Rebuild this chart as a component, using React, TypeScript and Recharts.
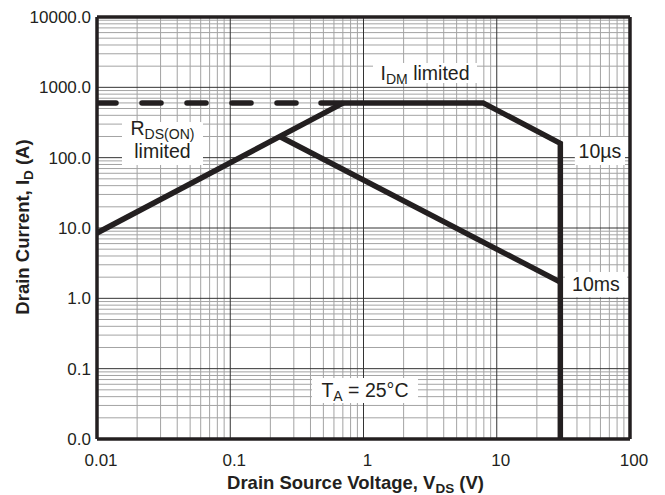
import React from 'react';
import { ComposedChart, Line, XAxis, YAxis, ReferenceLine, ReferenceArea } from 'recharts';

// Axis ticks
const xTicks = [0.01, 0.1, 1, 10, 100];
const yTicks = [0.01, 0.1, 1, 10, 100, 1000, 10000];
const minorSteps = [2, 3, 4, 5, 6, 7, 8, 9];

// Series (V_DS in volts, I_D in amps)
const rdsVoltage = [0.01, 0.706];
const rdsCurrent = [8.5, 600];
const idmDashVoltage = [0.01, 0.46];
const idmDashCurrent = [600, 600];
const pulse10usVoltage = [0.48, 7.9, 30, 30];
const pulse10usCurrent = [600, 600, 160, 0.01];
const pulse10msVoltage = [0.235, 30];
const pulse10msCurrent = [200, 1.7];

const zip = (xs: number[], ys: number[]) => xs.map((x, i) => ({ x, y: ys[i] }));
const rdsData = zip(rdsVoltage, rdsCurrent);
const dashData = zip(idmDashVoltage, idmDashCurrent);
const us10Data = zip(pulse10usVoltage, pulse10usCurrent);
const ms10Data = zip(pulse10msVoltage, pulse10msCurrent);

const xMinor = xTicks.slice(0, -1).flatMap((d) => minorSteps.map((m) => d * m));
const yMinor = yTicks.slice(0, -1).flatMap((d) => minorSteps.map((m) => d * m));

const FONT = '"Liberation Sans", Arial, Helvetica, sans-serif';
const INK = '#231f20';

type Seg = { t: string; sub?: boolean };
type Note = { x1: number; x2: number; y1: number; y2: number; lines: Seg[][] };

const notes: Note[] = [
  { x1: 1.18, x2: 7.11, y1: 1153, y2: 2218, lines: [[{ t: 'I' }, { t: 'DM', sub: true }, { t: ' limited' }]] },
  { x1: 0.0154, x2: 0.0624, y1: 78.7, y2: 321, lines: [[{ t: 'R' }, { t: 'DS(ON)', sub: true }], [{ t: 'limited' }]] },
  { x1: 38.6, x2: 91.7, y1: 78.7, y2: 197, lines: [[{ t: '10µs' }]] },
  { x1: 32.5, x2: 94.8, y1: 1.045, y2: 2.37, lines: [[{ t: '10ms' }]] },
  { x1: 0.411, x2: 2.56, y1: 0.0325, y2: 0.0736, lines: [[{ t: 'T' }, { t: 'A', sub: true }, { t: ' = 25°C' }]] },
];

const renderSegs = (segs: Seg[], size: number) => {
  const out: React.ReactNode[] = [];
  let shifted = false;
  segs.forEach((s, i) => {
    if (s.sub) {
      out.push(
        <tspan key={i} fontSize={size * 0.72} dy={shifted ? 0 : 4}>
          {s.t}
        </tspan>
      );
      shifted = true;
    } else {
      out.push(
        <tspan key={i} dy={shifted ? -4 : 0}>
          {s.t}
        </tspan>
      );
      shifted = false;
    }
  });
  return out;
};

const noteContent = (lines: Seg[][]) => (props: any) => {
  const vb = props.viewBox || { x: 0, y: 0, width: 0, height: 0 };
  const cx = vb.x + vb.width / 2;
  const cy = vb.y + vb.height / 2;
  const size = 19.5;
  return (
    <g>
      <rect x={vb.x} y={vb.y} width={vb.width} height={vb.height} fill="#fff" stroke="none" />
      {lines.length === 1 ? (
        <text x={cx} y={cy + 6.8} textAnchor="middle" fontFamily={FONT} fontSize={size} fill={INK}>
          {renderSegs(lines[0], size)}
        </text>
      ) : (
        <>
          <text x={cx} y={cy - 9} textAnchor="middle" fontFamily={FONT} fontSize={size} fill={INK}>
            {renderSegs(lines[0], size)}
          </text>
          <text x={cx} y={cy + 14.5} textAnchor="middle" fontFamily={FONT} fontSize={size} fill={INK}>
            {renderSegs(lines[1], size)}
          </text>
        </>
      )}
    </g>
  );
};

const YTitle = (props: any) => {
  const vb = props.viewBox || { x: 0, y: 17, width: 97, height: 422 };
  const bx = vb.x + 29;
  const cy = vb.y + vb.height / 2 - 1;
  return (
    <text
      x={bx}
      y={cy}
      transform={`rotate(-90, ${bx}, ${cy})`}
      textAnchor="middle"
      fontFamily={FONT}
      fontSize={18.5}
      fontWeight="bold"
      fill={INK}
    >
      <tspan>Drain Current, I</tspan>
      <tspan fontSize={13.5} dy={4}>D</tspan>
      <tspan dy={-4}> (A)</tspan>
    </text>
  );
};

const XTitle = (props: any) => {
  const vb = props.viewBox || { x: 97, y: 439, width: 533, height: 56 };
  const cx = vb.x + vb.width / 2 - 8;
  const by = vb.y + 50;
  return (
    <text x={cx} y={by} textAnchor="middle" fontFamily={FONT} fontSize={18.5} fontWeight="bold" fill={INK}>
      <tspan>Drain Source Voltage, V</tspan>
      <tspan fontSize={13.5} dy={4}>DS</tspan>
      <tspan dy={-4}> (V)</tspan>
    </text>
  );
};

const gridZ: any = { zIndex: -60 };
const boxZ: any = { zIndex: 450 };

export default function App() {
  return (
    <div style={{ position: 'absolute', left: 0, top: 0, background: '#fff' }}>
      <ComposedChart width={665} height={495} margin={{ top: 17, right: 35, bottom: 0, left: 0 }}>
        <XAxis
          type="number"
          dataKey="x"
          scale="log"
          domain={[0.01, 100]}
          ticks={xTicks}
          allowDataOverflow
          height={56}
          axisLine={false}
          tickLine={false}
          tickSize={0}
          tickMargin={15}
          interval={0}
          tickFormatter={(v: number) => String(v)}
          tick={{ fill: INK, fontSize: 17, fontFamily: FONT, dx: 4 }}
          label={{ content: XTitle }}
        />
        <YAxis
          type="number"
          dataKey="y"
          scale="log"
          domain={[0.01, 10000]}
          ticks={yTicks}
          allowDataOverflow
          width={97}
          axisLine={false}
          tickLine={false}
          tickSize={0}
          tickMargin={6}
          interval={0}
          tickFormatter={(v: number) => v.toFixed(1)}
          tick={{ fill: INK, fontSize: 17, fontFamily: FONT }}
          label={{ content: YTitle }}
        />
        {xMinor.map((v) => (
          <ReferenceLine key={'xm' + v} x={v} stroke="#a3a3a3" strokeWidth={1} {...gridZ} />
        ))}
        {yMinor.map((v) => (
          <ReferenceLine key={'ym' + v} y={v} stroke="#a3a3a3" strokeWidth={1} {...gridZ} />
        ))}
        {xTicks.map((v) => (
          <ReferenceLine key={'xM' + v} x={v} stroke="#333" strokeWidth={1} {...gridZ} />
        ))}
        {yTicks.map((v) => (
          <ReferenceLine key={'yM' + v} y={v} stroke="#333" strokeWidth={1} {...gridZ} />
        ))}
        {notes.map((n, i) => (
          <ReferenceArea
            key={'n' + i}
            x1={n.x1}
            x2={n.x2}
            y1={n.y1}
            y2={n.y2}
            fill="#fff"
            fillOpacity={1}
            stroke="none"
            {...boxZ}
            label={{ content: noteContent(n.lines) }}
          />
        ))}
        <Line data={dashData} dataKey="y" type="linear" stroke={INK} strokeWidth={5.5} strokeDasharray="19 26" strokeLinecap="round" dot={false} activeDot={false} isAnimationActive={false} />
        <Line data={rdsData} dataKey="y" type="linear" stroke={INK} strokeWidth={5.5} dot={false} activeDot={false} isAnimationActive={false} />
        <Line data={ms10Data} dataKey="y" type="linear" stroke={INK} strokeWidth={5.5} dot={false} activeDot={false} isAnimationActive={false} />
        <Line data={us10Data} dataKey="y" type="linear" stroke={INK} strokeWidth={5.5} strokeLinecap="round" dot={false} activeDot={false} isAnimationActive={false} />
        <ReferenceLine x={0.01} stroke={INK} strokeWidth={3.5} />
        <ReferenceLine x={100} stroke={INK} strokeWidth={3.5} />
        <ReferenceLine y={0.01} stroke={INK} strokeWidth={3.5} />
        <ReferenceLine y={10000} stroke={INK} strokeWidth={3.5} />
      </ComposedChart>
    </div>
  );
}
